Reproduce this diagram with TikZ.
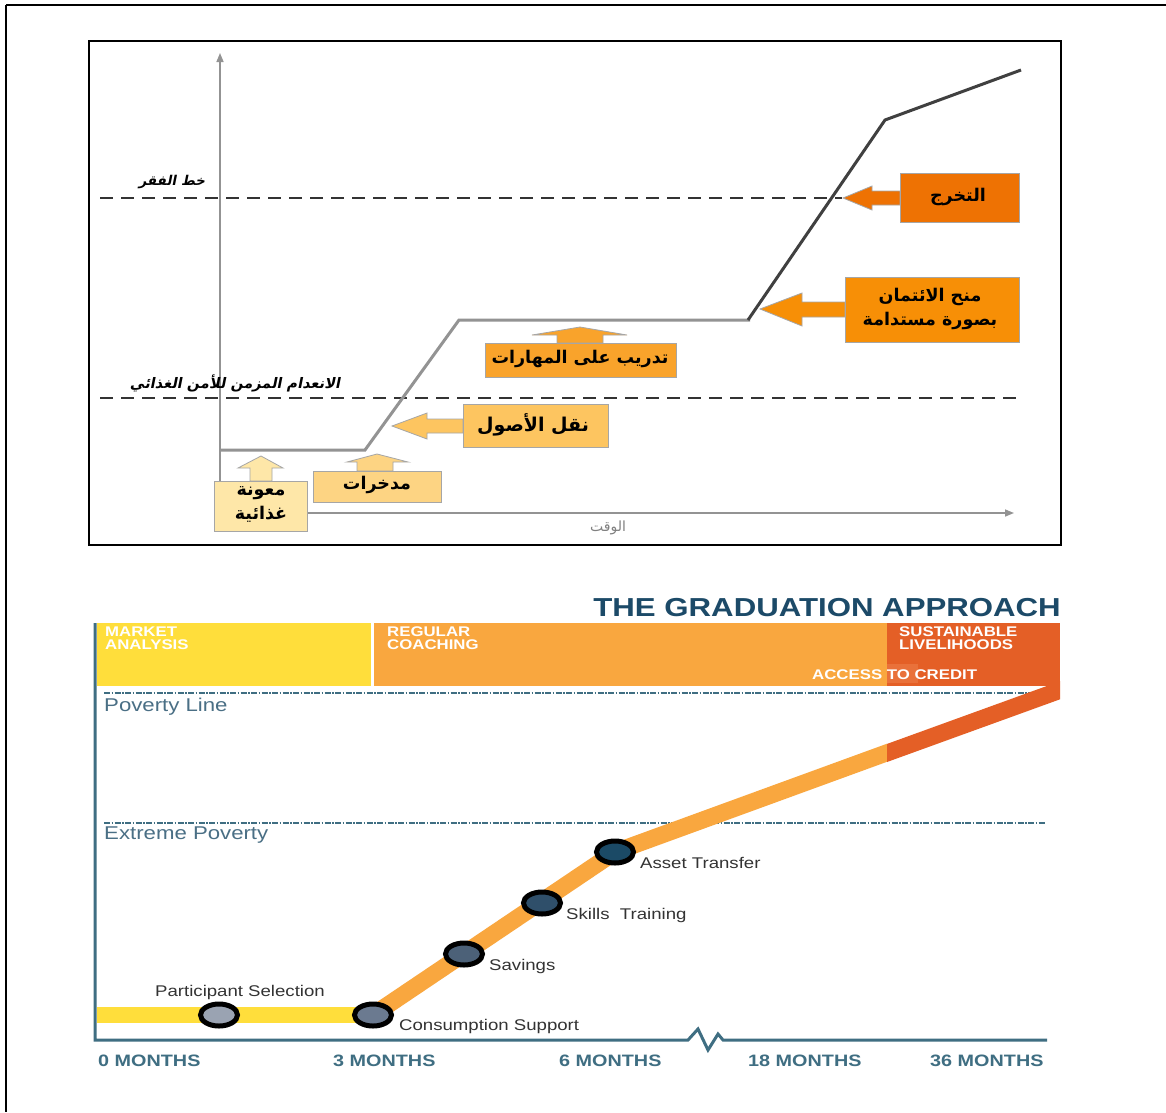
\documentclass[tikz,border=0pt]{standalone}
\usepackage{fontspec}
\usetikzlibrary{arrows.meta,shapes.geometric}
\setmainfont{Liberation Sans}
\newfontfamily\gsans[FakeStretch=1.2]{Liberation Sans}
\newfontfamily\arabicfont[Script=Arabic]{DejaVu Sans}
\newfontfamily\arabicslant[Script=Arabic,FakeSlant=0.2]{DejaVu Sans}
\TeXXeTstate=1
\definecolor{c1}{HTML}{EE7203}
\definecolor{c2}{HTML}{F78F06}
\definecolor{c3}{HTML}{F9A32B}
\definecolor{c4}{HTML}{FDC560}
\definecolor{c5}{HTML}{FDD483}
\definecolor{c6}{HTML}{FEE7A8}
\definecolor{teal}{HTML}{3F6E82}
\definecolor{tealtxt}{HTML}{4A6F85}
\definecolor{gyel}{HTML}{FFDE3B}
\definecolor{gor}{HTML}{F9A73F}
\definecolor{gdark}{HTML}{E45F26}
\definecolor{gpatch}{HTML}{E9713A}
\definecolor{titlec}{HTML}{1C4A68}
\definecolor{nf1}{HTML}{9AA3B2}
\definecolor{nf2}{HTML}{6B7A90}
\definecolor{nf3}{HTML}{4C6178}
\definecolor{nf4}{HTML}{2F4F6A}
\definecolor{nf5}{HTML}{1B4A66}
\begin{document}
\begin{tikzpicture}[x=1pt,y=-1pt,
  abox/.style={draw=black!35, line width=0.8},
  artext/.style={font=\arabicfont\bfseries\fontsize{17.5}{24}\selectfont, align=center, inner sep=0},
  arlab/.style={font=\arabicslant\bfseries\fontsize{13.5}{16}\selectfont, inner sep=0},
  dashline/.style={dash pattern=on 13 off 8, line width=1.3, black!80},
  gdash/.style={dash pattern=on 6 off 1.5 on 1.5 off 1.5, line width=2, teal},
  gnode/.style={draw=black, line width=5, ellipse, minimum width=37, minimum height=22, inner sep=0},
  glab/.style={font=\gsans\fontsize{15.5}{18}\selectfont, text=black!80, inner sep=0},
  gaxis/.style={font=\gsans\bfseries\fontsize{16.5}{18}\selectfont, text=teal, inner sep=0},
  ghead/.style={font=\gsans\bfseries\fontsize{14}{12.5}\selectfont, text=white, align=left, inner sep=0, anchor=north west}
]
\useasboundingbox (0,0) rectangle (1166,1112);
\fill[white] (0,0) rectangle (1166,1112);
% outer frame
\draw[line width=2.5] (6,5) -- (1166,5);
\draw[line width=2.5] (6,5) -- (6,1112);

% ===== top chart =====
\draw[line width=1.5] (89,41) rectangle (1061,545);
\draw[gray!85, line width=1.5, -{Triangle[width=7,length=9]}] (220,513) -- (220,53);
\draw[gray!85, line width=1.5, -{Triangle[width=7,length=9]}] (220,513) -- (1014,513);
\node[font=\arabicfont\fontsize{14}{16}\selectfont, text=gray] (time) at (608,528) {\beginR الوقت\endR};

\draw[dashline] (100,198) -- (842,198);
\draw[dashline] (100,398) -- (1018,398);
\node[arlab] (povl) at (172,182) {\beginR خط الفقر\endR};
\node[arlab, font=\arabicslant\bfseries\fontsize{14.5}{16}\selectfont] (foodl) at (235,383) {\beginR الانعدام المزمن للأمن الغذائي\endR};

\draw[line width=3, gray!85, line join=miter] (220,450) -- (365,450) -- (459,320) -- (750,320);
\draw[line width=3, black!75, line join=miter] (748,320) -- (885,120) -- (1021,70);

% graduation
\filldraw[abox, fill=c1] (900,191) -- (872,191) -- (872,186) -- (843,198) -- (872,210) -- (872,205) -- (900,205) -- cycle;
\filldraw[abox, fill=c1] (900,173) rectangle (1019,222);
\node[artext] (grad) at (958,197) {\beginR التخرج\endR};
% credit
\filldraw[abox, fill=c2] (845,302) -- (802,302) -- (802,293) -- (760,309) -- (802,326) -- (802,317) -- (845,317) -- cycle;
\filldraw[abox, fill=c2] (845,277) rectangle (1019,342);
\node[artext] (cred) at (930,309) {\beginR منح الائتمان\endR\\\beginR بصورة مستدامة\endR};
% skills
\filldraw[abox, fill=c3] (557,343) -- (557,335) -- (532,335) -- (580,327) -- (627,335) -- (603,335) -- (603,343) -- cycle;
\filldraw[abox, fill=c3] (485,343) rectangle (676,377);
\node[artext] (skl) at (580,359) {\beginR تدريب على المهارات\endR};
% assets
\filldraw[abox, fill=c4] (463,419) -- (427,419) -- (427,413) -- (392,426) -- (427,439) -- (427,433) -- (463,433) -- cycle;
\filldraw[abox, fill=c4] (463,404) rectangle (608,447);
\node[artext, font=\arabicfont\bfseries\fontsize{19}{24}\selectfont] (ast) at (533,425) {\beginR نقل الأصول\endR};
% savings
\filldraw[abox, fill=c5] (357,471) -- (357,462) -- (347,462) -- (377,454) -- (408,462) -- (393,462) -- (393,471) -- cycle;
\filldraw[abox, fill=c5] (313,471) rectangle (441,502);
\node[artext] (sav) at (377,485) {\beginR مدخرات\endR};
% food aid
\filldraw[abox, fill=c6] (250,481) -- (250,468) -- (238,468) -- (261,456) -- (283,468) -- (272,468) -- (272,481) -- cycle;
\filldraw[abox, fill=c6] (214,481) rectangle (307,531);
\node[artext] (food) at (261,504) {\beginR معونة\endR\\\beginR غذائية\endR};

% ===== bottom chart =====
\node[font=\gsans\bfseries\fontsize{26}{28}\selectfont, text=titlec, anchor=base east, inner sep=0] (title) at (1061,616) {THE GRADUATION APPROACH};

\fill[gyel] (97,623) rectangle (371,686);
\fill[gor] (374,623) rectangle (887,686);
\fill[gdark] (887,623) rectangle (1060,686);
\fill[gpatch] (887,664) rectangle (918,683);
\node[ghead] (h1) at (105,627) {MARKET\\ANALYSIS};
\node[ghead] (h2) at (387,627) {REGULAR\\COACHING};
\node[ghead] (h3) at (899,627) {SUSTAINABLE\\LIVELIHOODS};
\node[ghead, anchor=base west] (h4) at (812,679) {ACCESS TO CREDIT};

\draw[gdash] (104,693) -- (1042,693);
\draw[gdash] (104,823) -- (1045,823);
\node[font=\gsans\fontsize{18.5}{20}\selectfont, text=tealtxt, anchor=west, inner sep=0] (pl) at (104,707) {Poverty Line};
\node[font=\gsans\fontsize{18.5}{20}\selectfont, text=tealtxt, anchor=west, inner sep=0] (ep) at (104,835) {Extreme Poverty};

% path band
\draw[gyel, line width=16] (97,1015) -- (373,1015);
\begin{scope}
\clip (300,600) rectangle (887,1100);
\draw[gor, line width=17, line join=round] (373,1015) -- (615,852) -- (900,748);
\end{scope}
\begin{scope}
\clip (887,600) rectangle (1060,1100);
\draw[gdark, line width=17] (880,755.5) -- (1080,683);
\end{scope}

\node[gnode, fill=nf1] (n1) at (219,1015) {};
\node[gnode, fill=nf2] (n2) at (373,1015) {};
\node[gnode, fill=nf3] (n3) at (464,954) {};
\node[gnode, fill=nf4] (n4) at (542,903) {};
\node[gnode, fill=nf5] (n5) at (615,852) {};

\node[glab] (l1) at (240,992) {Participant Selection};
\node[glab, anchor=west] (l2) at (399,1026) {Consumption Support};
\node[glab, anchor=west] (l3) at (489,966) {Savings};
\node[glab, anchor=west] (l4) at (566,915) {Skills\ \ Training};
\node[glab, anchor=west] (l5) at (640,863) {Asset Transfer};

\draw[teal, line width=3, line join=miter] (95,623) -- (95,1040) -- (688,1040) -- (698,1029) -- (708,1050) -- (718,1034) -- (723,1040) -- (1047,1040);

\node[gaxis, anchor=base west] (m0) at (98,1066) {0 MONTHS};
\node[gaxis, anchor=base west] (m3) at (333,1066) {3 MONTHS};
\node[gaxis, anchor=base west] (m6) at (559,1066) {6 MONTHS};
\node[gaxis, anchor=base west] (m18) at (748,1066) {18 MONTHS};
\node[gaxis, anchor=base west] (m36) at (930,1066) {36 MONTHS};
\end{tikzpicture}
\end{document}
